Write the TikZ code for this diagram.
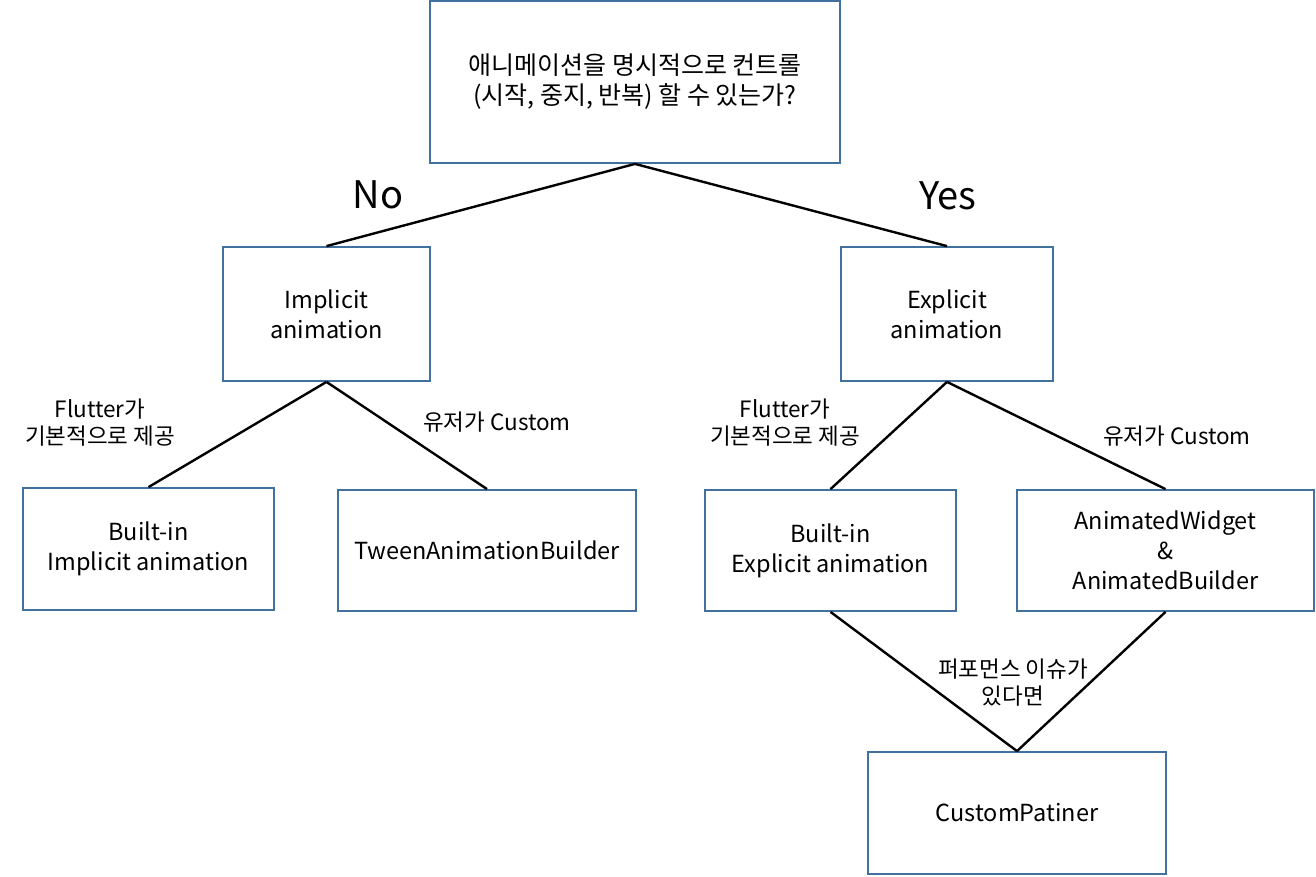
\documentclass[tikz,border=0pt]{standalone}
\usepackage{fontspec}
\setmainfont{Noto Sans CJK KR}
\definecolor{boxblue}{HTML}{41719C}
\begin{document}
\begin{tikzpicture}[x=1pt,y=-1pt,
  box/.style={draw=boxblue,line width=1.8pt,inner sep=0pt,align=center,font=\fontsize{23.5}{30}\selectfont},
  conn/.style={line width=2.4pt,black},
  lbl/.style={align=center,inner sep=0pt,font=\fontsize{22.5}{27}\selectfont},
  big/.style={inner sep=0pt,font=\fontsize{38}{44}\selectfont}]
\useasboundingbox (0,0) rectangle (1316,876);
\node[box,minimum width=410,minimum height=162,font=\fontsize{25}{30}\selectfont] (top) at (635,82) {애니메이션을 명시적으로 컨트롤\\(시작, 중지, 반복) 할 수 있는가?};
\node[box,minimum width=207,minimum height=134] (impl) at (326.5,314) {Implicit\\animation};
\node[box,minimum width=212,minimum height=134] (expl) at (947,314) {Explicit\\animation};
\node[box,minimum width=251,minimum height=122] (bi) at (148.5,549) {Built-in\\Implicit animation};
\node[box,minimum width=298,minimum height=121] (tw) at (487,550.5) {TweenAnimationBuilder};
\node[box,minimum width=251,minimum height=121] (be) at (830.5,550.5) {Built-in\\Explicit animation};
\node[box,minimum width=297,minimum height=121] (aw) at (1165.5,550.5) {AnimatedWidget\\\&\\AnimatedBuilder};
\node[box,minimum width=298,minimum height=122] (cp) at (1017,813) {CustomPatiner};
\draw[conn] (top.south) -- (impl.north);
\draw[conn] (top.south) -- (expl.north);
\draw[conn] (impl.south) -- (bi.north);
\draw[conn] (impl.south) -- (tw.north);
\draw[conn] (expl.south) -- (be.north);
\draw[conn] (expl.south) -- (aw.north);
\draw[conn] (be.south) -- (cp.north);
\draw[conn] (aw.south) -- (cp.north);
\node[big] (no) at (378,195) {No};
\node[big] (yes) at (948,196) {Yes};
\node[lbl] (l1) at (100,423) {Flutter가\\기본적으로 제공};
\node[lbl] (l2) at (497,422) {유저가 Custom};
\node[lbl] (l3) at (785,423) {Flutter가\\기본적으로 제공};
\node[lbl] (l4) at (1177,436) {유저가 Custom};
\node[lbl] (l5) at (1013,683) {퍼포먼스 이슈가\\있다면};
\end{tikzpicture}
\end{document}
